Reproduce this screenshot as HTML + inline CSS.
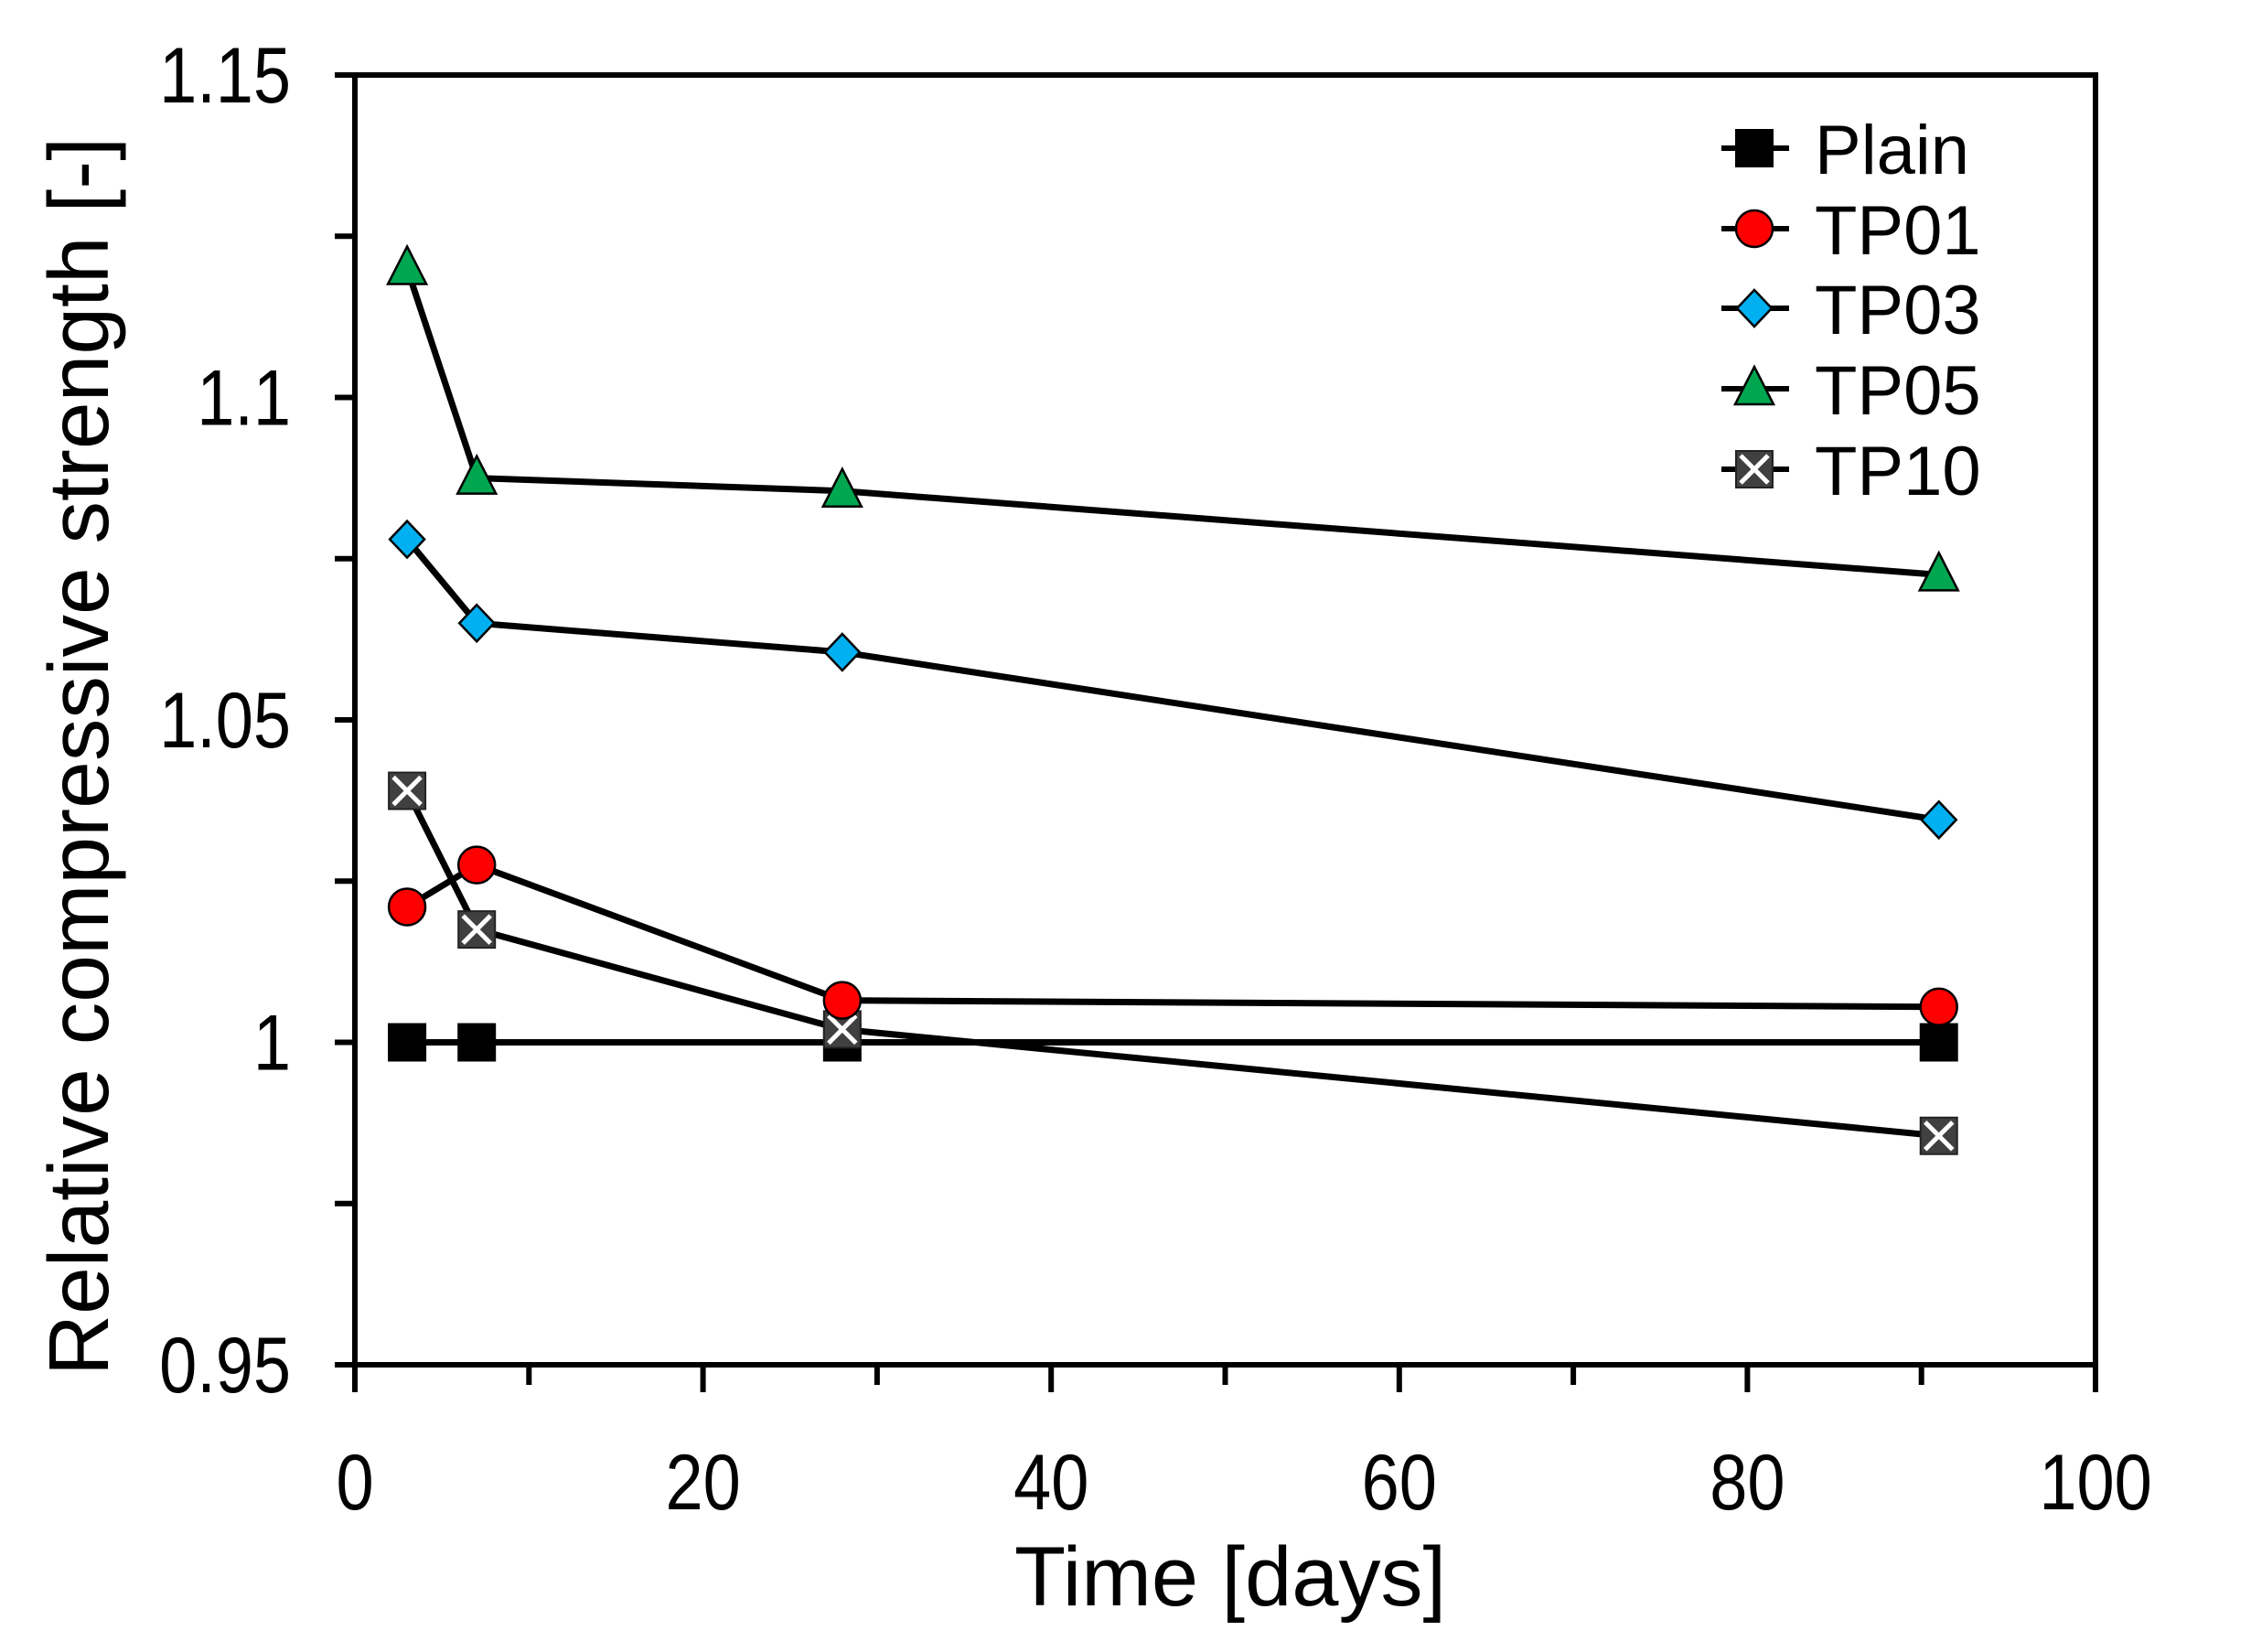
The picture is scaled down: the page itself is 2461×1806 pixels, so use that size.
<!DOCTYPE html>
<html><head><meta charset="utf-8"><style>
html,body{margin:0;padding:0;background:#fff;}
svg{display:block;font-family:"Liberation Sans",sans-serif;}
</style></head><body>
<svg id="chart" width="2461" height="1806" viewBox="0 0 2461 1806" xmlns="http://www.w3.org/2000/svg">
<rect width="2461" height="1806" fill="#fff"/>
<g id="grid"></g>
<g id="series"></g>
<g id="legend"></g>
<text x="1345" y="1755" font-size="92" text-anchor="middle">Time [days]</text>
<text transform="translate(118,827) rotate(-90)" font-size="93" text-anchor="middle">Relative compressive strength [-]</text>
</svg>
<script>
const days = [3, 7, 28, 91];
const seriesNames = ["Plain","TP01","TP03","TP05","TP10"];
const plainVals = [1, 1, 1, 1];
const tp01Vals = [1.021, 1.0275, 1.0065, 1.0055];
const tp03Vals = [1.078, 1.065, 1.0605, 1.0345];
const tp05Vals = [1.12, 1.0875, 1.0855, 1.0725];
const tp10Vals = [1.039, 1.0175, 1.002, 0.9855];
const xTicks = [0,20,40,60,80,100];
const yTicks = [0.95,1,1.05,1.1,1.15];
const yTickLabels = ["0.95","1","1.05","1.1","1.15"];

const NS="http://www.w3.org/2000/svg";
const L=388,R=2291,T=82,B=1492;
const xS=v=>L+(v-0)/(100-0)*(R-L);
const yS=v=>B-(v-0.95)/(1.15-0.95)*(B-T);
function mk(tag,attrs,parent){const e=document.createElementNS(NS,tag);for(const k in attrs)e.setAttribute(k,attrs[k]);parent.appendChild(e);return e;}
const g=document.getElementById('grid');
let fr=mk('rect',{x:L,y:T,width:R-L,height:B-T,fill:'none',stroke:'#000','stroke-width':6},g);


for(let v=0;v<=100;v+=10){
  const major=v%20===0;
  let t=mk('line',{x1:xS(v),x2:xS(v),y1:B,y2:B+(major?30:22),stroke:'#000','stroke-width':6},g);
  
  
}
xTicks.forEach(v=>{
  let t=mk('text',{transform:`translate(${xS(v)},1650) scale(0.86,1)`,'font-size':86,'text-anchor':'middle'},g);t.textContent=v;
  
  
});
for(let v=0.95;v<=1.1501;v+=0.025){
  let t=mk('line',{x1:L-22,x2:L,y1:yS(v),y2:yS(v),stroke:'#000','stroke-width':6},g);
  
  
}
yTicks.forEach((v,i)=>{
  let t=mk('text',{transform:`translate(318,${yS(v)+30}) scale(0.86,1)`,'font-size':86,'text-anchor':'end'},g);t.textContent=yTickLabels[i];
  
  
});
function marker(type,cx,cy,parent){
  let e;
  if(type==='square'){e=mk('rect',{x:cx-20,y:cy-20,width:40,height:40,fill:'#000',stroke:'#000','stroke-width':2},parent);}
  else if(type==='circle'){e=mk('circle',{cx:cx,cy:cy,r:20,fill:'#ff0000',stroke:'#000','stroke-width':2.5},parent);}
  else if(type==='diamond'){e=mk('polygon',{points:`${cx},${cy-20} ${cx+19},${cy} ${cx},${cy+20} ${cx-19},${cy}`,fill:'#00b0f0',stroke:'#000','stroke-width':2.5},parent);}
  else if(type==='triangle'){e=mk('polygon',{points:`${cx},${cy-24} ${cx+21},${cy+17} ${cx-21},${cy+17}`,fill:'#00a650',stroke:'#000','stroke-width':2.5},parent);}
  else {
    e=mk('g',{},parent);
    mk('rect',{x:cx-20,y:cy-20,width:40,height:40,fill:'#404040',stroke:'#222','stroke-width':2},e);
    mk('path',{d:`M${cx-15},${cy-15}L${cx+15},${cy+15}M${cx+15},${cy-15}L${cx-15},${cy+15}`,stroke:'#fff','stroke-width':5},e);
  }
  return e;
}
const allVals=[plainVals,tp01Vals,tp03Vals,tp05Vals,tp10Vals];
const types=['square','circle','diamond','triangle','xsquare'];
const sg=document.getElementById('series');
const order=[0,4,1,2,3];
order.forEach(si=>{
  const vals=allVals[si];
  const grp=mk('g',{},sg);
  
  
  let p=mk('polyline',{points:days.map((d,i)=>xS(d)+','+yS(vals[i])).join(' '),fill:'none',stroke:'#000','stroke-width':7},grp);
  
  
  days.forEach((d,i)=>{
    let m=marker(types[si],xS(d),yS(vals[i]),grp);
    
    
  });
});
const lg=document.getElementById('legend');


const rows=[162,250,337,425,513];
seriesNames.forEach((n,i)=>{
  const eg=mk('g',{},lg);
  
  
  mk('line',{x1:1882,x2:1956,y1:rows[i],y2:rows[i],stroke:'#000','stroke-width':6},eg);
  marker(types[i],1918,rows[i],eg);
  let t=mk('text',{x:1984,y:rows[i]+28,'font-size':76},eg);t.textContent=n;
});
</script>
</body></html>
